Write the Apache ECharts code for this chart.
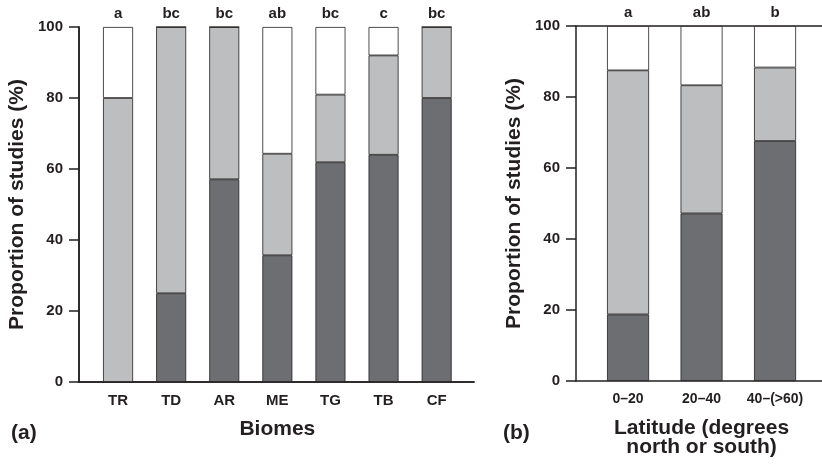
<!DOCTYPE html>
<html>
<head>
<meta charset="UTF-8">
<title>Proportion of studies</title>
<script src="https://cdn.jsdelivr.net/npm/echarts@6/dist/echarts.min.js"></script>
<style>
	html, body { margin: 0; padding: 0; background: #fff; }
	#chart { width: 822px; height: 466px; }
</style>
</head>
<body>
<div id="chart"></div>
<script>
	// panel (a) biomes
	var biomes = ['TR', 'TD', 'AR', 'ME', 'TG', 'TB', 'CF'];
	var biomeLetters = ['a', 'bc', 'bc', 'ab', 'bc', 'c', 'bc'];
	var biomeDark = [0, 25, 57.1, 35.7, 61.9, 64, 80];
	var biomeLight = [80, 75, 42.9, 28.6, 19.05, 28, 20];
	var biomeWhite = [20, 0, 0, 35.7, 19.05, 8, 0];

	// panel (b) latitude
	var latitudes = ['0–20', '20–40', '40–(>60)'];
	var latLetters = ['a', 'ab', 'b'];
	var latDark = [18.75, 47.2, 67.6];
	var latLight = [68.75, 36.1, 20.7];
	var latWhite = [12.5, 16.7, 11.7];

	var yTicks = [0, 20, 40, 60, 80, 100];

	var ink = '#231f20';
	var font = "'Liberation Sans', Arial, Helvetica, sans-serif";
	var colDark = '#6d6e71', colLight = '#bcbec0', colWhite = '#ffffff';

	var myChart = echarts.init(document.getElementById('chart'));

	function frameX(grid, pos) {
		return {
			gridIndex: grid, type: 'value', position: pos, min: 0, max: 1,
			axisLine: { show: true, lineStyle: { color: ink, width: 1.5 } },
			axisTick: { show: false }, axisLabel: { show: false }, splitLine: { show: false }
		};
	}
	function frameY(grid) {
		return {
			gridIndex: grid, type: 'value', min: yTicks[0], max: yTicks[yTicks.length - 1], interval: 20,
			axisLine: { show: true, lineStyle: { color: ink, width: 1.5 } },
			axisTick: { show: true, length: 10, lineStyle: { color: ink, width: 1.5 } },
			axisLabel: { color: ink, fontFamily: font, fontWeight: 'bold', fontSize: 15, margin: 16 },
			splitLine: { show: false },
			name: 'Proportion of studies (%)', nameLocation: 'middle', nameGap: 51,
			nameTextStyle: { color: ink, fontFamily: font, fontWeight: 'bold', fontSize: 21 }
		};
	}
	function barX(grid, cats, name, size) {
		return {
			gridIndex: grid, type: 'category', data: cats,
			axisLine: { show: false }, axisTick: { show: false },
			axisLabel: { interval: 0, color: ink, fontFamily: font, fontWeight: 'bold', fontSize: size, margin: 11 },
			name: name, nameLocation: 'middle', nameGap: 38,
			nameTextStyle: { color: ink, fontFamily: font, fontWeight: 'bold', fontSize: 21, lineHeight: 19 }
		};
	}
	function letterX(grid, cats, letters) {
		return {
			gridIndex: grid, type: 'category', data: cats, position: 'top',
			axisLine: { show: false }, axisTick: { show: false },
			axisLabel: {
				interval: 0, color: ink, fontFamily: font, fontWeight: 'bold', fontSize: 15, margin: 6,
				formatter: function (v, i) { return letters[i]; }
			}
		};
	}
	function hiddenY(grid) {
		return { gridIndex: grid, type: 'value', min: 0, max: 100, show: false };
	}
	function part(x, y, data, color, width) {
		return {
			type: 'bar', xAxisIndex: x, yAxisIndex: y, stack: 's' + x, data: data,
			barWidth: width,
			itemStyle: { color: color, borderColor: ink, borderWidth: 0.8 }
		};
	}

	var option = {
		animation: false,
		backgroundColor: '#fff',
		title: [
			{ text: '(a)', left: 6, top: 418, textStyle: { color: ink, fontFamily: font, fontWeight: 'bold', fontSize: 21 } },
			{ text: '(b)', left: 498, top: 418, textStyle: { color: ink, fontFamily: font, fontWeight: 'bold', fontSize: 21 } }
		],
		grid: [
			{ left: 79, top: 27, width: 395, height: 355 },
			{ left: 91.5, top: 27, width: 371.7, height: 355 },
			{ left: 576, top: 26, right: 0, height: 355 },
			{ left: 591.3, top: 26, width: 220.5, height: 355 }
		],
		xAxis: [
			frameX(0, 'bottom'), frameX(0, 'top'),
			barX(1, biomes, 'Biomes', 15), letterX(1, biomes, biomeLetters),
			frameX(2, 'bottom'), frameX(2, 'top'),
			barX(3, latitudes, 'Latitude (degrees\nnorth or south)', 14), letterX(3, latitudes, latLetters)
		],
		yAxis: [
			frameY(0),
			{
				gridIndex: 0, type: 'value', position: 'right', min: 0, max: 100,
				axisLine: { show: true, lineStyle: { color: ink, width: 1.5 } },
				axisTick: { show: false }, axisLabel: { show: false }, splitLine: { show: false }
			},
			hiddenY(1),
			frameY(2),
			hiddenY(3)
		],
		series: [
			part(2, 2, biomeDark, colDark, 30),
			part(2, 2, biomeLight, colLight, 30),
			part(2, 2, biomeWhite, colWhite, 30),
			part(6, 4, latDark, colDark, 42),
			part(6, 4, latLight, colLight, 42),
			part(6, 4, latWhite, colWhite, 42)
		]
	};
	myChart.setOption(option);
</script>
</body>
</html>
